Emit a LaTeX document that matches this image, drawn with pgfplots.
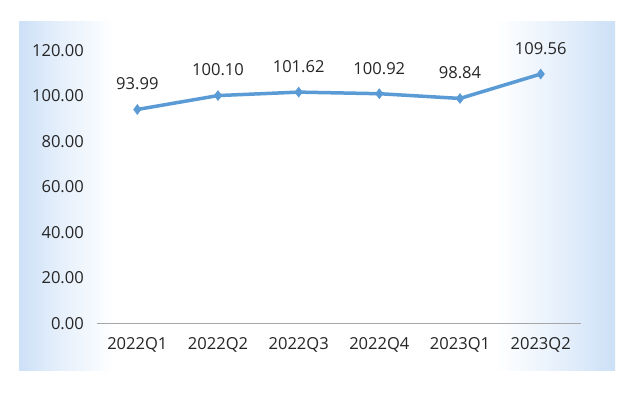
\documentclass[border=0pt]{standalone}
\usepackage{pgfplots}
\pgfplotsset{compat=1.18}
\usepackage{fontspec}
\setmainfont{Open Sans}
\definecolor{linec}{HTML}{5B9BD5}
\definecolor{txt}{HTML}{262626}
\definecolor{axc}{HTML}{A6A6A6}
\definecolor{bgc}{HTML}{CCE0F7}
\pgfdeclarehorizontalshading{bgshade}{100bp}{color(0bp)=(bgc); color(25bp)=(bgc); color(28bp)=(bgc!55!white); color(33bp)=(white); color(65bp)=(white); color(71bp)=(bgc!55!white); color(75bp)=(bgc); color(100bp)=(bgc)}
\begin{document}
\begin{tikzpicture}[x=1bp,y=1bp]
\fill[white] (0,0) rectangle (637,396);
\shade[shading=bgshade] (19,26) rectangle (615,374);
\begin{axis}[
  at={(97bp,72.7bp)}, anchor=south west,
  scale only axis, width=484bp, height=273bp,
  xmin=-0.5, xmax=5.5, ymin=0, ymax=120,
  ytick={0,20,...,120},
  xtick={0,1,2,3,4,5},
  xticklabels={2022Q1,2022Q2,2022Q3,2022Q4,2023Q1,2023Q2},
  clip=false,
  separate axis lines,
  axis x line*=bottom, axis y line*=left,
  x axis line style={draw=axc, line width=0.8bp, -},
  y axis line style={draw=none},
  major tick length=0pt,
  /pgf/number format/.cd, fixed, fixed zerofill, precision=2, assume math mode=true,
  /pgfplots/.cd,
  tick label style={font=\fontsize{16.6}{19}\selectfont, text=txt, inner sep=0pt},
  yticklabel style={anchor=east, xshift=-13bp},
  xticklabel style={anchor=base, yshift=-26.4bp},
  nodes near coords,
  every node near coord/.append style={font=\fontsize{16.6}{19}\selectfont, text=txt, anchor=center, yshift=25.5bp, inner sep=0pt},
]
\addplot[color=linec, line width=3.5bp, mark=diamond*, mark size=5bp, mark options={fill=linec, draw=linec, line width=0.5bp}]
  coordinates {(0,93.99) (1,100.10) (2,101.62) (3,100.92) (4,98.84) (5,109.56)};
\end{axis}
\end{tikzpicture}
\end{document}
